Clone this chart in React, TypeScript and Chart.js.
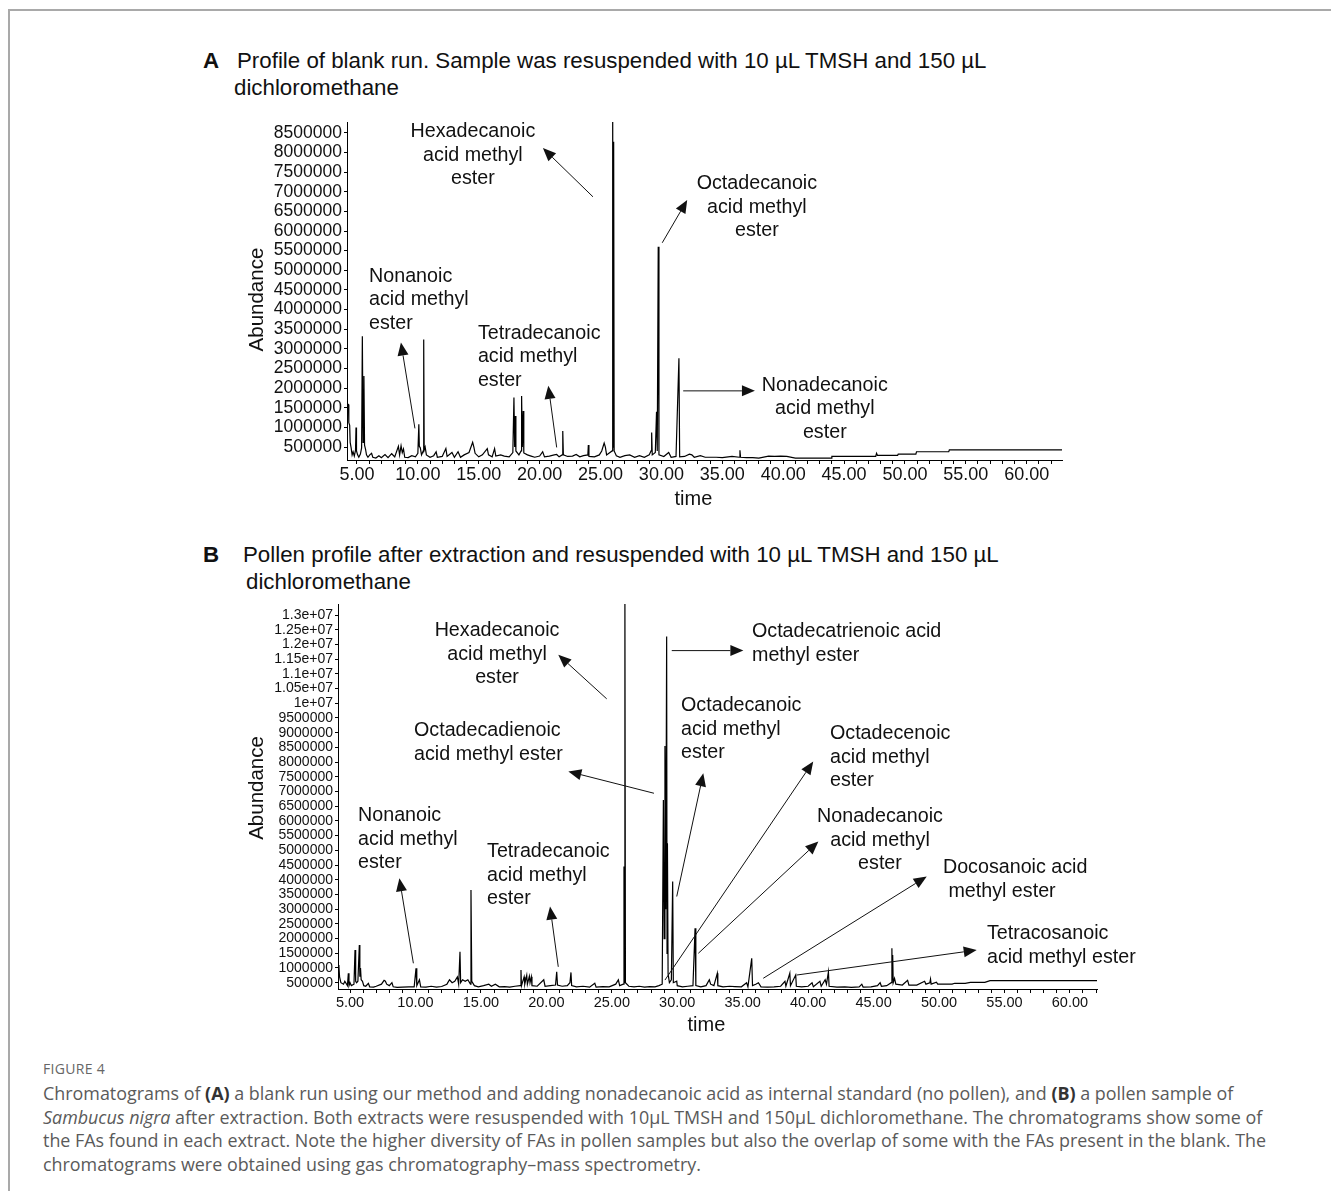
import React, { useEffect, useRef } from 'react';
import { Chart, registerables } from 'chart.js';

Chart.register(...registerables);

// Retention time (min) / abundance pairs of the blank run (panel A)
const traceA: [number, number][] = [
  [4.18, 1.61e6], [4.30, 1.58e6], [4.33, 1.12e6], [4.40, 1.05e6], [4.44, 0.62e6],
  [4.52, 0.48e6], [4.60, 0.30e6], [4.68, 0.38e6], [4.78, 0.27e6], [4.88, 0.42e6],
  [4.92, 1.0e6], [4.96, 0.40e6], [5.05, 0.30e6], [5.15, 0.24e6], [5.28, 0.32e6],
  [5.38, 0.48e6], [5.44, 3.32e6], [5.50, 0.62e6], [5.57, 2.31e6], [5.62, 0.55e6],
  [5.70, 0.45e6], [5.78, 0.30e6], [5.90, 0.24e6], [6.05, 0.30e6], [6.20, 0.34e6],
  [6.30, 0.24e6], [6.55, 0.22e6], [6.80, 0.28e6], [7.00, 0.23e6], [7.30, 0.31e6],
  [7.55, 0.23e6], [7.85, 0.33e6], [8.10, 0.25e6], [8.40, 0.52e6], [8.50, 0.30e6],
  [8.62, 0.53e6], [8.72, 0.36e6], [8.82, 0.45e6], [8.92, 0.24e6], [9.20, 0.23e6],
  [9.50, 0.28e6], [9.80, 0.25e6], [10.00, 0.34e6], [10.08, 1.08e6], [10.12, 0.52e6],
  [10.20, 0.48e6], [10.30, 0.30e6], [10.44, 0.40e6], [10.48, 3.24e6], [10.52, 0.42e6],
  [10.60, 0.50e6], [10.70, 0.30e6], [11.00, 0.24e6], [11.30, 0.28e6], [11.50, 0.38e6],
  [11.60, 0.24e6], [12.00, 0.26e6], [12.30, 0.46e6], [12.40, 0.26e6], [12.80, 0.36e6],
  [13.00, 0.24e6], [13.30, 0.38e6], [13.50, 0.24e6], [13.80, 0.30e6], [14.20, 0.36e6],
  [14.50, 0.62e6], [14.60, 0.50e6], [14.70, 0.34e6], [15.00, 0.25e6], [15.30, 0.30e6],
  [15.70, 0.46e6], [15.80, 0.30e6], [16.10, 0.25e6], [16.30, 0.46e6], [16.40, 0.27e6],
  [16.80, 0.30e6], [17.10, 0.27e6], [17.50, 0.25e6], [17.80, 0.36e6], [17.89, 1.76e6],
  [17.95, 0.50e6], [18.00, 1.29e6], [18.05, 0.40e6], [18.30, 0.30e6], [18.48, 0.40e6],
  [18.52, 1.80e6], [18.58, 0.50e6], [18.65, 1.42e6], [18.70, 0.35e6], [19.00, 0.30e6],
  [19.30, 0.27e6], [19.60, 0.24e6], [20.00, 0.27e6], [20.25, 0.38e6], [20.40, 0.25e6],
  [20.80, 0.27e6], [21.20, 0.30e6], [21.40, 0.31e6], [21.60, 0.25e6], [21.85, 0.30e6],
  [21.90, 0.91e6], [21.95, 0.30e6], [22.30, 0.26e6], [22.70, 0.27e6], [23.00, 0.31e6],
  [23.30, 0.25e6], [23.60, 0.28e6], [23.96, 0.30e6], [24.00, 0.55e6], [24.05, 0.26e6],
  [24.50, 0.25e6], [24.90, 0.30e6], [25.10, 0.40e6], [25.30, 0.60e6], [25.40, 0.50e6],
  [25.50, 0.30e6], [25.95, 0.40e6], [26.00, 9.20e6], [26.04, 0.50e6], [26.08, 8.27e6],
  [26.12, 0.40e6], [26.30, 0.28e6], [26.60, 0.24e6], [27.00, 0.28e6], [27.40, 0.30e6],
  [27.80, 0.24e6], [28.20, 0.28e6], [28.60, 0.24e6], [29.00, 0.30e6], [29.15, 0.40e6],
  [29.20, 0.87e6], [29.25, 0.30e6], [29.50, 0.36e6], [29.60, 1.40e6], [29.66, 0.40e6],
  [29.74, 5.60e6], [29.80, 0.30e6], [30.20, 0.26e6], [30.60, 0.36e6], [30.80, 0.24e6],
  [31.20, 0.26e6], [31.44, 2.76e6], [31.50, 0.25e6], [31.90, 0.26e6], [32.30, 0.32e6],
  [32.50, 0.30e6], [32.70, 0.24e6], [33.20, 0.28e6], [33.60, 0.24e6], [34.50, 0.24e6],
  [35.00, 0.23e6], [35.80, 0.26e6], [36.40, 0.24e6], [36.45, 0.42e6], [36.50, 0.24e6],
  [37.00, 0.23e6], [37.50, 0.23e6], [38.00, 0.22e6], [38.80, 0.27e6], [39.30, 0.26e6],
  [39.80, 0.27e6], [40.30, 0.26e6], [41.00, 0.22e6], [42.00, 0.22e6], [43.00, 0.22e6],
  [43.95, 0.22e6], [44.00, 0.26e6], [47.60, 0.26e6], [47.67, 0.34e6], [47.74, 0.29e6],
  [49.40, 0.29e6], [49.45, 0.32e6], [50.90, 0.32e6], [50.95, 0.38e6], [53.60, 0.38e6],
  [53.65, 0.43e6], [62.90, 0.43e6],
];

// Retention time (min) / abundance pairs of the Sambucus nigra pollen extract (panel B)
const traceB: [number, number][] = [
  [4.08, 1.10e6], [4.15, 1.05e6], [4.20, 0.70e6], [4.30, 0.50e6], [4.50, 0.45e6],
  [4.60, 0.55e6], [4.80, 0.40e6], [4.87, 0.82e6], [4.92, 0.40e6], [5.00, 0.50e6],
  [5.10, 0.40e6], [5.30, 0.45e6], [5.38, 1.61e6], [5.43, 0.55e6], [5.50, 0.50e6],
  [5.60, 0.55e6], [5.71, 1.78e6], [5.75, 0.70e6], [5.80, 1.00e6], [5.85, 0.60e6],
  [5.95, 0.55e6], [6.05, 0.40e6], [6.20, 0.38e6], [6.40, 0.48e6], [6.50, 0.36e6],
  [6.80, 0.35e6], [7.00, 0.38e6], [7.40, 0.45e6], [7.60, 0.58e6], [7.70, 0.55e6],
  [7.80, 0.45e6], [8.00, 0.40e6], [8.20, 0.50e6], [8.30, 0.36e6], [8.60, 0.34e6],
  [9.00, 0.35e6], [9.50, 0.36e6], [9.90, 0.36e6], [10.04, 0.99e6], [10.10, 0.40e6],
  [10.30, 0.60e6], [10.40, 0.36e6], [10.80, 0.35e6], [11.20, 0.38e6], [11.60, 0.35e6],
  [12.00, 0.37e6], [12.40, 0.45e6], [12.60, 0.60e6], [12.80, 0.50e6], [13.00, 0.55e6],
  [13.20, 0.70e6], [13.30, 0.45e6], [13.40, 1.55e6], [13.45, 0.50e6], [13.60, 0.60e6],
  [13.80, 0.55e6], [14.00, 0.60e6], [14.20, 0.45e6], [14.24, 3.65e6], [14.30, 0.55e6],
  [14.50, 0.40e6], [14.80, 0.36e6], [15.20, 0.40e6], [15.60, 0.45e6], [15.80, 0.38e6],
  [16.10, 0.45e6], [16.40, 0.36e6], [16.80, 0.37e6], [17.20, 0.35e6], [17.60, 0.38e6],
  [18.00, 0.40e6], [18.06, 0.93e6], [18.10, 0.40e6], [18.30, 0.70e6], [18.35, 0.45e6],
  [18.50, 0.75e6], [18.55, 0.45e6], [18.70, 0.72e6], [18.75, 0.50e6], [18.85, 0.70e6],
  [18.90, 0.40e6], [19.30, 0.38e6], [19.80, 0.60e6], [19.90, 0.38e6], [20.30, 0.40e6],
  [20.70, 0.42e6], [20.79, 0.87e6], [20.85, 0.42e6], [21.20, 0.38e6], [21.60, 0.40e6],
  [21.80, 0.50e6], [21.88, 0.85e6], [21.93, 0.40e6], [22.30, 0.36e6], [22.80, 0.38e6],
  [23.30, 0.35e6], [23.70, 0.48e6], [23.80, 0.35e6], [24.30, 0.37e6], [24.80, 0.36e6],
  [25.30, 0.45e6], [25.50, 0.60e6], [25.60, 0.40e6], [25.88, 0.45e6], [25.93, 4.45e6],
  [25.96, 0.50e6], [26.00, 14.0e6], [26.04, 0.50e6], [26.30, 0.38e6], [26.70, 0.36e6],
  [27.10, 0.38e6], [27.50, 0.35e6], [27.90, 0.37e6], [28.30, 0.36e6], [28.60, 0.40e6],
  [28.85, 0.45e6], [28.94, 6.71e6], [29.00, 2.00e6], [29.06, 8.55e6], [29.12, 3.00e6],
  [29.19, 12.27e6], [29.22, 1.50e6], [29.25, 5.24e6], [29.30, 0.80e6], [29.40, 0.50e6],
  [29.55, 0.60e6], [29.65, 3.94e6], [29.70, 0.50e6], [29.96, 0.55e6], [30.00, 0.40e6],
  [30.40, 0.36e6], [30.80, 0.38e6], [31.20, 0.40e6], [31.36, 2.35e6], [31.42, 0.40e6],
  [31.80, 0.36e6], [32.20, 0.40e6], [32.45, 0.60e6], [32.55, 0.45e6], [32.80, 0.40e6],
  [33.06, 0.82e6], [33.10, 0.40e6], [33.50, 0.36e6], [34.00, 0.38e6], [34.40, 0.37e6],
  [34.90, 0.36e6], [35.30, 0.50e6], [35.40, 0.36e6], [35.69, 1.33e6], [35.75, 0.40e6],
  [36.00, 0.45e6], [36.20, 0.50e6], [36.40, 0.36e6], [36.90, 0.35e6], [37.40, 0.36e6],
  [37.90, 0.38e6], [38.23, 0.55e6], [38.30, 0.38e6], [38.60, 0.82e6], [38.65, 0.40e6],
  [39.05, 0.76e6], [39.10, 0.38e6], [39.50, 0.36e6], [40.00, 0.38e6], [40.30, 0.50e6],
  [40.40, 0.36e6], [40.90, 0.55e6], [41.00, 0.38e6], [41.30, 0.60e6], [41.40, 0.45e6],
  [41.55, 0.87e6], [41.60, 0.38e6], [42.20, 0.35e6], [42.80, 0.36e6], [43.30, 0.34e6],
  [43.90, 0.36e6], [44.10, 0.45e6], [44.20, 0.35e6], [44.80, 0.36e6], [45.30, 0.40e6],
  [45.50, 0.50e6], [45.60, 0.38e6], [46.00, 0.40e6], [46.35, 0.50e6], [46.40, 1.67e6],
  [46.43, 0.60e6], [46.46, 1.44e6], [46.50, 0.50e6], [46.60, 0.65e6], [46.70, 0.45e6],
  [47.20, 0.42e6], [47.60, 0.58e6], [47.70, 0.42e6], [48.30, 0.42e6], [48.90, 0.55e6],
  [49.00, 0.45e6], [49.30, 0.50e6], [49.35, 0.62e6], [49.40, 0.45e6], [49.80, 0.52e6],
  [49.90, 0.45e6], [50.50, 0.45e6], [51.00, 0.45e6], [51.20, 0.48e6], [52.00, 0.48e6],
  [52.40, 0.51e6], [53.50, 0.51e6], [53.90, 0.57e6], [57.00, 0.57e6], [62.07, 0.57e6],
];

const xTickLabels = ['5.00', '10.00', '15.00', '20.00', '25.00', '30.00', '35.00', '40.00', '45.00', '50.00', '55.00', '60.00'];

const yTickLabelsA = [
  '500000', '1000000', '1500000', '2000000', '2500000', '3000000', '3500000', '4000000', '4500000',
  '5000000', '5500000', '6000000', '6500000', '7000000', '7500000', '8000000', '8500000',
];

const yTickLabelsB = [
  '500000', '1000000', '1500000', '2000000', '2500000', '3000000', '3500000', '4000000', '4500000',
  '5000000', '5500000', '6000000', '6500000', '7000000', '7500000', '8000000', '8500000', '9000000',
  '9500000', '1e+07', '1.05e+07', '1.1e+07', '1.15e+07', '1.2e+07', '1.25e+07', '1.3e+07',
];

type Note = {
  at: [number, number];
  lines: string[];
  align: 'left' | 'center';
  from: [number, number];
  to: [number, number];
};

// Peak labels of panel A, placed in (time, abundance) units
const notesA: Note[] = [
  { at: [14.52, 8.52e6], lines: ['Hexadecanoic', 'acid methyl', 'ester'], align: 'center', from: [24.38, 6.87e6], to: [20.27, 8.11e6] },
  { at: [37.84, 7.20e6], lines: ['Octadecanoic', 'acid methyl', 'ester'], align: 'center', from: [30.07, 5.70e6], to: [32.12, 6.79e6] },
  { at: [5.99, 4.84e6], lines: ['Nonanoic', 'acid methyl', 'ester'], align: 'left', from: [9.76, 0.975e6], to: [8.61, 3.16e6] },
  { at: [14.93, 3.39e6], lines: ['Tetradecanoic', 'acid methyl', 'ester'], align: 'left', from: [21.40, 0.49e6], to: [20.71, 2.06e6] },
  { at: [43.42, 2.07e6], lines: ['Nonadecanoic', 'acid methyl', 'ester'], align: 'center', from: [31.79, 1.93e6], to: [37.68, 1.93e6] },
];

// Peak labels of panel B, placed in (time, abundance) units
const notesB: Note[] = [
  { at: [16.23, 12.46e6], lines: ['Hexadecanoic', 'acid methyl', 'ester'], align: 'center', from: [24.61, 10.15e6], to: [20.91, 11.65e6] },
  { at: [9.89, 9.06e6], lines: ['Octadecadienoic', 'acid methyl ester'], align: 'left', from: [28.22, 6.94e6], to: [21.68, 7.68e6] },
  { at: [35.71, 12.43e6], lines: ['Octadecatrienoic acid', 'methyl ester'], align: 'left', from: [29.58, 11.79e6], to: [35.05, 11.79e6] },
  { at: [30.29, 9.91e6], lines: ['Octadecanoic', 'acid methyl', 'ester'], align: 'left', from: [29.96, 3.43e6], to: [31.99, 7.62e6] },
  { at: [41.67, 8.96e6], lines: ['Octadecenoic', 'acid methyl', 'ester'], align: 'left', from: [29.06, 0.59e6], to: [40.39, 8.02e6] },
  { at: [45.49, 6.14e6], lines: ['Nonadecanoic', 'acid methyl', 'ester'], align: 'center', from: [31.61, 1.50e6], to: [40.78, 5.30e6] },
  { at: [50.30, 4.40e6], lines: ['Docosanoic acid', ' methyl ester'], align: 'left', from: [36.57, 0.65e6], to: [49.06, 4.11e6] },
  { at: [53.66, 2.16e6], lines: ['Tetracosanoic', 'acid methyl ester'], align: 'left', from: [39.12, 0.76e6], to: [52.88, 1.61e6] },
  { at: [5.61, 6.17e6], lines: ['Nonanoic', 'acid methyl', 'ester'], align: 'left', from: [9.84, 1.16e6], to: [8.77, 4.05e6] },
  { at: [15.47, 4.95e6], lines: ['Tetradecanoic', 'acid methyl', 'ester'], align: 'left', from: [20.91, 1.04e6], to: [20.28, 3.09e6] },
];

const SANS = '"Liberation Sans", Arial, Helvetica, sans-serif';
const NBSP = '\u00a0';

function peakNotesPlugin(notes: Note[]) {
  return {
    id: 'peakNotes',
    afterDraw(chart: any) {
      const { ctx } = chart;
      const xs = chart.scales.x;
      const ys = chart.scales.y;
      ctx.save();
      ctx.strokeStyle = '#111';
      ctx.fillStyle = '#111';
      ctx.lineWidth = 1;
      for (const n of notes) {
        const x1 = xs.getPixelForValue(n.from[0]);
        const y1 = ys.getPixelForValue(n.from[1]);
        const x2 = xs.getPixelForValue(n.to[0]);
        const y2 = ys.getPixelForValue(n.to[1]);
        const ang = Math.atan2(y2 - y1, x2 - x1);
        const head = 13;
        const half = 5.5;
        const bx = x2 - head * Math.cos(ang);
        const by = y2 - head * Math.sin(ang);
        ctx.beginPath();
        ctx.moveTo(x1, y1);
        ctx.lineTo(bx, by);
        ctx.stroke();
        ctx.beginPath();
        ctx.moveTo(x2, y2);
        ctx.lineTo(bx + half * Math.sin(ang), by - half * Math.cos(ang));
        ctx.lineTo(bx - half * Math.sin(ang), by + half * Math.cos(ang));
        ctx.closePath();
        ctx.fill();

        ctx.font = `19.7px ${SANS}`;
        ctx.textBaseline = 'middle';
        ctx.textAlign = n.align;
        const tx = xs.getPixelForValue(n.at[0]);
        const ty = ys.getPixelForValue(n.at[1]);
        n.lines.forEach((line, i) => ctx.fillText(line, tx, ty + i * 23.5));
      }
      ctx.restore();
    },
  };
}

type PanelProps = {
  trace: [number, number][];
  notes: Note[];
  yTickLabels: string[];
  yTitle: string;
  xMin: number;
  xMax: number;
  yMin: number;
  yMax: number;
  top: number;
  height: number;
  padTop: number;
  padRight: number;
  yAxisWidth: number;
  xAxisHeight: number;
  tickFontY: number;
  tickFontX: number;
  xTickPad: number;
  xTitlePad: number;
};

// the axis title sits a little left of the plot centre; trailing spaces carry it there
const TIME_TITLE = 'time' + NBSP.repeat(4);

function Chromatogram(p: PanelProps) {
  const ref = useRef<HTMLCanvasElement | null>(null);

  useEffect(() => {
    if (!ref.current) return;
    const yValues = p.yTickLabels.map(Number);
    const xValues = xTickLabels.map(Number);
    const minuteTicks: number[] = [];
    for (let m = Math.ceil(p.xMin); m <= p.xMax; m++) minuteTicks.push(m);

    const chart = new Chart(ref.current, {
      type: 'line',
      data: {
        datasets: [
          {
            data: p.trace.map(([t, v]) => ({ x: t, y: v })),
            borderColor: '#000',
            borderWidth: 1.2,
            pointRadius: 0,
            tension: 0,
            fill: false,
          },
        ],
      },
      options: {
        animation: false,
        responsive: false,
        devicePixelRatio: 1,
        events: [],
        layout: { padding: { left: 235, right: p.padRight, top: p.padTop, bottom: 0 } },
        plugins: { legend: { display: false }, tooltip: { enabled: false } },
        scales: {
          x: {
            type: 'linear',
            min: p.xMin,
            max: p.xMax,
            afterBuildTicks: (axis: any) => {
              axis.ticks = minuteTicks.map((v) => ({ value: v }));
            },
            afterFit: (axis: any) => {
              axis.height = p.xAxisHeight;
            },
            ticks: {
              autoSkip: false,
              maxRotation: 0,
              padding: p.xTickPad,
              color: '#111',
              font: { family: SANS, size: p.tickFontX, lineHeight: 1.2 },
              callback: (value: any) => {
                const i = xValues.indexOf(Number(value));
                return i >= 0 ? xTickLabels[i] : '';
              },
            },
            grid: { drawOnChartArea: false, drawTicks: true, tickLength: 4, color: '#000' },
            border: { display: true, color: '#000', width: 1 },
            title: {
              display: true,
              text: TIME_TITLE,
              color: '#111',
              font: { family: SANS, size: 20, lineHeight: 1.2 },
              padding: { top: 0, bottom: p.xTitlePad },
            },
          },
          y: {
            type: 'linear',
            min: p.yMin,
            max: p.yMax,
            afterBuildTicks: (axis: any) => {
              axis.ticks = yValues.map((v) => ({ value: v }));
            },
            afterFit: (axis: any) => {
              axis.width = p.yAxisWidth;
            },
            ticks: {
              autoSkip: false,
              padding: 2,
              color: '#111',
              font: { family: SANS, size: p.tickFontY, lineHeight: 1.2 },
              callback: (value: any) => {
                const i = yValues.indexOf(Number(value));
                return i >= 0 ? p.yTickLabels[i] : '';
              },
            },
            grid: { drawOnChartArea: false, drawTicks: true, tickLength: 3, color: '#000' },
            border: { display: true, color: '#000', width: 1 },
            title: {
              display: true,
              text: p.yTitle,
              color: '#111',
              font: { family: SANS, size: 20.5, lineHeight: 1.2 },
              padding: { top: 9.7, bottom: 0 },
            },
          },
        },
      },
      plugins: [peakNotesPlugin(p.notes)],
    } as any);

    return () => chart.destroy();
  }, []);

  return (
    <canvas
      ref={ref}
      width={1331}
      height={p.height}
      style={{ position: 'absolute', left: 0, top: p.top, width: 1331, height: p.height }}
    />
  );
}

function Line({ left, cy, size, bold, children }: any) {
  return (
    <div
      style={{
        position: 'absolute',
        left,
        top: cy - 14,
        height: 28,
        lineHeight: '28px',
        fontSize: size,
        fontWeight: bold ? 700 : 400,
        whiteSpace: 'nowrap',
        color: '#111',
        fontFamily: SANS,
      }}
    >
      {children}
    </div>
  );
}

const CAPTION = '"Open Sans", "Lato", sans-serif';

export default function App() {
  const capLine = (cy: number, content: React.ReactNode) => (
    <div
      style={{
        position: 'absolute',
        left: 43,
        top: cy - 12,
        height: 24,
        lineHeight: '24px',
        fontSize: 17.9,
        color: '#5a5a5a',
        whiteSpace: 'nowrap',
        fontFamily: CAPTION,
      }}
    >
      {content}
    </div>
  );

  return (
    <div
      style={{
        position: 'absolute',
        left: 0,
        top: 0,
        width: 1331,
        height: 1191,
        overflow: 'hidden',
        background: '#fff',
      }}
    >
      <div
        style={{
          position: 'absolute',
          left: 8,
          top: 9,
          width: 1340,
          height: 1200,
          borderTop: '2px solid #a9a9a9',
          borderLeft: '2px solid #a9a9a9',
        }}
      />

      <Line left={203} cy={61} size={22.3} bold>A</Line>
      <Line left={237} cy={61} size={22.3}>Profile of blank run. Sample was resuspended with 10 µL TMSH and 150 µL</Line>
      <Line left={234} cy={88} size={22.3}>dichloromethane</Line>

      <Chromatogram
        trace={traceA}
        notes={notesA}
        yTickLabels={yTickLabelsA}
        yTitle={'Abundance' + NBSP.repeat(3)}
        xMin={4.18}
        xMax={62.9}
        yMin={170000}
        yMax={8775000}
        top={100}
        height={430}
        padTop={22}
        padRight={269}
        yAxisWidth={112}
        xAxisHeight={70}
        tickFontY={17.5}
        tickFontX={18}
        xTickPad={0}
        xTitlePad={19}
      />

      <Line left={203} cy={555} size={22.3} bold>B</Line>
      <Line left={243} cy={555} size={22.3}>Pollen profile after extraction and resuspended with 10 µL TMSH and 150 µL</Line>
      <Line left={246} cy={582} size={22.3}>dichloromethane</Line>

      <Chromatogram
        trace={traceB}
        notes={notesB}
        yTickLabels={yTickLabelsB}
        yTitle={NBSP.repeat(3) + 'Abundance'}
        xMin={4.08}
        xMax={62.07}
        yMin={286000}
        yMax={13374000}
        top={590}
        height={455}
        padTop={14}
        padRight={234}
        yAxisWidth={103}
        xAxisHeight={56}
        tickFontY={14}
        tickFontX={14.5}
        xTickPad={1}
        xTitlePad={8}
      />

      <div
        style={{
          position: 'absolute',
          left: 43,
          top: 1060,
          height: 18,
          lineHeight: '18px',
          fontSize: 14,
          color: '#666',
          letterSpacing: 0.3,
          fontFamily: CAPTION,
        }}
      >
        FIGURE 4
      </div>
      {capLine(
        1093,
        <>
          Chromatograms of <b style={{ color: '#333' }}>(A)</b> a blank run using our method and adding nonadecanoic acid as
          internal standard (no pollen), and <b style={{ color: '#333' }}>(B)</b> a pollen sample of
        </>,
      )}
      {capLine(
        1116.5,
        <>
          <i>Sambucus nigra</i> after extraction. Both extracts were resuspended with 10µL TMSH and 150µL dichloromethane. The
          chromatograms show some of
        </>,
      )}
      {capLine(
        1140,
        'the FAs found in each extract. Note the higher diversity of FAs in pollen samples but also the overlap of some with the FAs present in the blank. The',
      )}
      {capLine(1164, 'chromatograms were obtained using gas chromatography–mass spectrometry.')}
    </div>
  );
}
